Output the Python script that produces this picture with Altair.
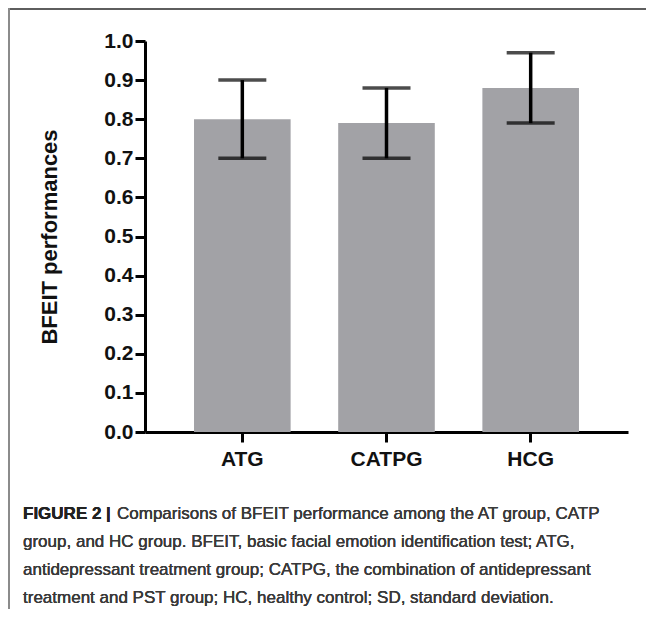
import altair as alt
import pandas as pd

groups = ["ATG", "CATPG", "HCG"]
means = [0.80, 0.79, 0.88]
lowers = [0.70, 0.70, 0.79]
uppers = [0.90, 0.88, 0.97]
y_ticks = [0.0, 0.1, 0.2, 0.3, 0.4, 0.5, 0.6, 0.7, 0.8, 0.9, 1.0]
y_title = "BFEIT performances"
caption_bold = "FIGURE 2 |"
caption_lines = [
    "Comparisons of BFEIT performance among the AT group, CATP",
    "group, and HC group. BFEIT, basic facial emotion identification test; ATG,",
    "antidepressant treatment group; CATPG, the combination of antidepressant",
    "treatment and PST group; HC, healthy control; SD, standard deviation.",
]

df = pd.DataFrame({"group": groups, "mean": means, "lower": lowers, "upper": uppers})

W, H = 483, 391
PL, PT = 137, 33

xscale = alt.Scale(paddingInner=0.33, paddingOuter=0.34)
yscale = alt.Scale(domain=[0, 1], nice=False)

xaxis = alt.Axis(
    title=None, labelAngle=0, labelFont="Liberation Sans", labelFontWeight="bold",
    labelFontSize=21, labelColor="#111", labelPadding=6,
    domainColor="#000", domainWidth=3, tickColor="#000", tickWidth=3, tickSize=10,
    grid=False,
)
yaxis = alt.Axis(
    title=y_title, values=y_ticks, format=".1f", labelOverlap=False,
    labelFont="Liberation Sans", labelFontWeight="bold", labelFontSize=21,
    labelColor="#111", labelPadding=2,
    titleFont="Liberation Sans", titleFontWeight="bold", titleFontSize=22,
    titleColor="#111", titlePadding=42,
    domainColor="#000", domainWidth=3, tickColor="#000", tickWidth=3, tickSize=10,
    grid=False,
)

xo = alt.X("group:N", sort=groups, scale=xscale, axis=xaxis)

bars = alt.Chart(df).mark_bar(color="#a2a2a6").encode(
    x=xo, y=alt.Y("mean:Q", scale=yscale, axis=yaxis)
)
err = alt.Chart(df).mark_rule(color="#000", strokeWidth=3.5).encode(
    x=xo, y=alt.Y("lower:Q", scale=yscale, axis=yaxis), y2="upper:Q"
)
cap_hi = alt.Chart(df).mark_tick(color="#000", thickness=3.5, size=48, orient="horizontal").encode(
    x=xo, y=alt.Y("upper:Q", scale=yscale, axis=yaxis)
)
cap_lo = alt.Chart(df).mark_tick(color="#000", thickness=3.5, size=48, orient="horizontal").encode(
    x=xo, y=alt.Y("lower:Q", scale=yscale, axis=yaxis)
)

# frame lines (top and left)
frame_top = alt.Chart(df).mark_rule(color="#5e5e5e", strokeWidth=2).encode(
    x=alt.value(-PL), x2=alt.value(W + 30), y=alt.value(-PT + 1)
)
frame_left = alt.Chart(df).mark_rule(color="#8a8a8a", strokeWidth=1.5).encode(
    x=alt.value(-PL + 1), y=alt.value(-PT), y2=alt.value(H + 180)
)

cap_x0 = 23 - 8 - PL
base_y = 519 - 8 - PT
line_gap = 28

cap_layers = [
    alt.Chart(df).mark_text(
        text=caption_bold, align="left", baseline="alphabetic",
        font="Liberation Sans", fontWeight="bold", fontSize=17, color="#222",
    ).encode(x=alt.value(cap_x0), y=alt.value(base_y))
]
for i, line in enumerate(caption_lines):
    xoff = cap_x0 + (94 if i == 0 else 0)
    cap_layers.append(
        alt.Chart(df).mark_text(
            text=line, align="left", baseline="alphabetic",
            font="Liberation Sans", fontSize=17, color="#3a3a3a",
        ).encode(x=alt.value(xoff), y=alt.value(base_y + i * line_gap))
    )

chart = alt.layer(bars, err, cap_hi, cap_lo, frame_top, frame_left, *cap_layers).properties(
    width=W, height=H,
    autosize=alt.AutoSizeParams(type="none"),
    padding={"left": PL, "top": PT, "right": 18, "bottom": 601 - PT - H},
).configure(background="white").configure_view(strokeWidth=0)

chart.save("out.html", embed_options={"renderer": "svg", "actions": False})
